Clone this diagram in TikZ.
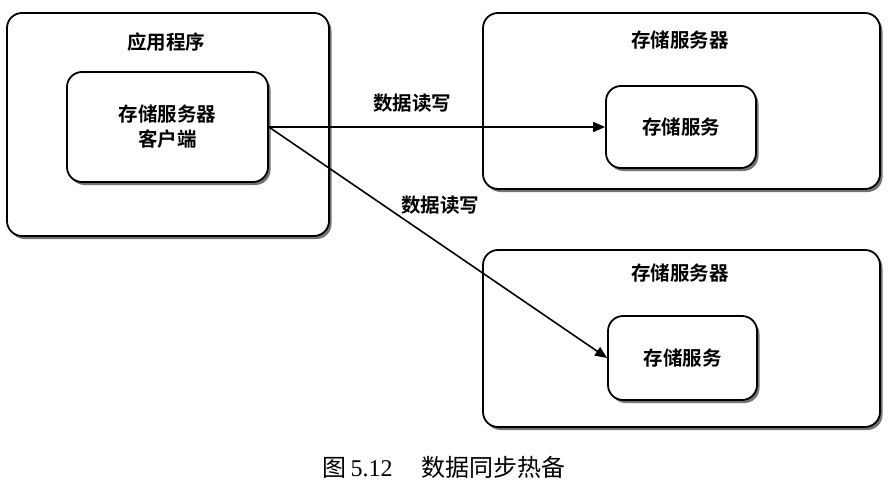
\documentclass[tikz,border=0pt]{standalone}
\usepackage{fontspec}
\newfontfamily\cjk{Noto Sans CJK SC}[BoldFont={Noto Sans CJK SC Bold}]
\newfontfamily\capfont{Liberation Serif}
\usetikzlibrary{arrows.meta,shadows}
\begin{document}
\begin{tikzpicture}[x=1pt,y=-1pt,
  box/.style={draw=black, line width=1.8pt, rounded corners=15pt, fill=white,
    drop shadow={shadow xshift=2.5pt, shadow yshift=-3pt, fill=black, opacity=0.55},
    inner sep=0pt, align=center},
  lbl/.style={font=\cjk\bfseries\fontsize{19.5}{25}\selectfont, inner sep=0pt, align=center},
  conn/.style={line width=1.6pt, -{Triangle[length=12pt,width=10pt]}}
]
\useasboundingbox (0,0) rectangle (891,495);
% application
\node[box, minimum width=322pt, minimum height=223pt] (app) at (168,124.5) {};
\node[lbl] (apptitle) at (166,42) {应用程序};
\node[box, lbl, minimum width=201pt, minimum height=110pt] (client) at (167.5,127) {存储服务器\\客户端};
% server 1
\node[box, minimum width=397pt, minimum height=176pt] (srv1) at (681.5,101) {};
\node[lbl] (srv1title) at (680,40) {存储服务器};
\node[box, lbl, minimum width=150pt, minimum height=82pt] (svc1) at (681,127) {存储服务};
% server 2
\node[box, minimum width=397pt, minimum height=177pt] (srv2) at (681.5,338.5) {};
\node[lbl] (srv2title) at (680,273) {存储服务器};
\node[box, lbl, minimum width=149pt, minimum height=84pt] (svc2) at (682.5,358) {存储服务};
% connectors
\draw[conn] (client.east) -- (svc1.west);
\draw[conn] (client.east) -- (svc2.west);
\node[lbl] (l1) at (412,103) {数据读写};
\node[lbl] (l2) at (440,205) {数据读写};
% caption
\node[inner sep=0pt] (cap) at (444,467) {\cjk\fontsize{24}{28}\selectfont 图\,{\capfont 5.12}\hspace{1.2em}数据同步热备};
\end{tikzpicture}
\end{document}
